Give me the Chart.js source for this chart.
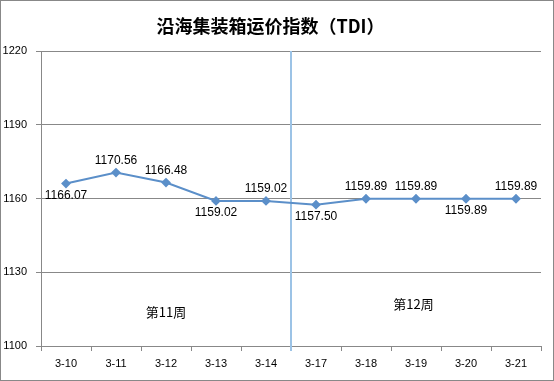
<!DOCTYPE html>
<html>
<head>
<meta charset="utf-8">
<script src="https://cdn.jsdelivr.net/npm/chart.js@4"></script>
<style>
  html, body { margin: 0; padding: 0; background: #fff; }
  #wrap { width: 554px; height: 381px; }
</style>
</head>
<body>
<div id="wrap"><canvas id="myChart" width="554" height="381"></canvas></div>
<script>
// data
var categories = ['3-10', '3-11', '3-12', '3-13', '3-14', '3-17', '3-18', '3-19', '3-20', '3-21'];
var tdiValues = [1166.07, 1170.56, 1166.48, 1159.02, 1159.02, 1157.50, 1159.89, 1159.89, 1159.89, 1159.89];
var labelSide = ['below', 'above', 'above', 'below', 'above', 'below', 'above', 'above', 'below', 'above'];
var weekNames = ['第11周', '第12周'];
var weekAt = [2, 6.95];
var weekLevel = [1114, 1117];
var splitAfter = 4; // separator between 3-14 and 3-17

var fontFam = '"Liberation Sans", Arial, sans-serif';

var extras = {
  id: 'extras',
  beforeDraw: function(chart) {
    var c = chart.ctx;
    c.save();
    c.fillStyle = '#fff';
    c.fillRect(0, 0, chart.width, chart.height);
    c.restore();
  },
  beforeDatasetsDraw: function(chart) {
    var c = chart.ctx, x = chart.scales.x, y = chart.scales.y;
    var a = chart.chartArea;
    var sx = Math.round((x.getPixelForValue(splitAfter) + x.getPixelForValue(splitAfter + 1)) / 2);
    c.save();
    c.strokeStyle = '#9cc3e6';
    c.lineWidth = 2;
    c.beginPath();
    c.moveTo(sx, a.top);
    c.lineTo(sx, a.bottom + 5);
    c.stroke();
    c.fillStyle = '#000';
    c.font = '13px "Noto Sans CJK SC", ' + fontFam;
    c.textAlign = 'center';
    c.textBaseline = 'middle';
    for (var i = 0; i < weekNames.length; i++) {
      var p0 = x.getPixelForValue(Math.floor(weekAt[i]));
      var p1 = x.getPixelForValue(Math.floor(weekAt[i]) + 1);
      var px = p0 + (p1 - p0) * (weekAt[i] - Math.floor(weekAt[i]));
      c.fillText(weekNames[i], px, y.getPixelForValue(weekLevel[i]));
    }
    c.restore();
  },
  afterDatasetsDraw: function(chart) {
    var c = chart.ctx;
    var meta = chart.getDatasetMeta(0);
    c.save();
    c.fillStyle = '#000';
    c.font = '12px ' + fontFam;
    c.textAlign = 'center';
    c.textBaseline = 'middle';
    meta.data.forEach(function(pt, i) {
      var dy = labelSide[i] === 'above' ? -12 : 12;
      c.fillText(tdiValues[i].toFixed(2), pt.x, pt.y + dy);
    });
    c.restore();
  },
  afterDraw: function(chart) {
    var c = chart.ctx;
    c.save();
    c.strokeStyle = '#888';
    c.lineWidth = 1;
    c.strokeRect(0.5, 0.5, chart.width - 1, chart.height - 1);
    c.restore();
  }
};

var data = {
  labels: categories,
  datasets: [{
    label: 'TDI',
    data: tdiValues,
    borderColor: '#5b8fc9',
    backgroundColor: '#5b8fc9',
    borderWidth: 2,
    pointStyle: 'rectRot',
    pointRadius: 3.5,
    pointHoverRadius: 3.5,
    tension: 0
  }]
};

var config = {
  type: 'line',
  data: data,
  plugins: [extras],
  options: {
    responsive: false,
    animation: false,
    events: [],
    layout: { padding: { left: 0, right: 13, top: 0, bottom: 1 } },
    plugins: {
      legend: { display: false },
      tooltip: { enabled: false },
      title: {
        display: true,
        text: '沿海集装箱运价指数（TDI）',
        color: '#000',
        font: { family: '"Noto Sans CJK SC", sans-serif', size: 18, weight: 'bold' },
        padding: { top: 15, bottom: 14.4 }
      }
    },
    scales: {
      x: {
        offset: true,
        grid: { offset: true, drawOnChartArea: false, drawTicks: true, tickLength: 5, color: '#888' },
        border: { color: '#888' },
        ticks: { color: '#000', font: { family: fontFam, size: 11 }, padding: 6, maxRotation: 0 },
        afterFit: function(s) { s.height = 34; }
      },
      y: {
        min: 1100,
        max: 1220,
        ticks: {
          stepSize: 30, color: '#000', font: { family: fontFam, size: 11 }, padding: 9,
          callback: function(v) { return String(v); }
        },
        grid: { color: '#888', tickLength: 5 },
        border: { color: '#888' },
        afterFit: function(s) { s.width = 41; }
      }
    }
  }
};

var ctx = document.getElementById('myChart').getContext('2d');
var myChart = new Chart(ctx, config);
</script>
</body>
</html>
